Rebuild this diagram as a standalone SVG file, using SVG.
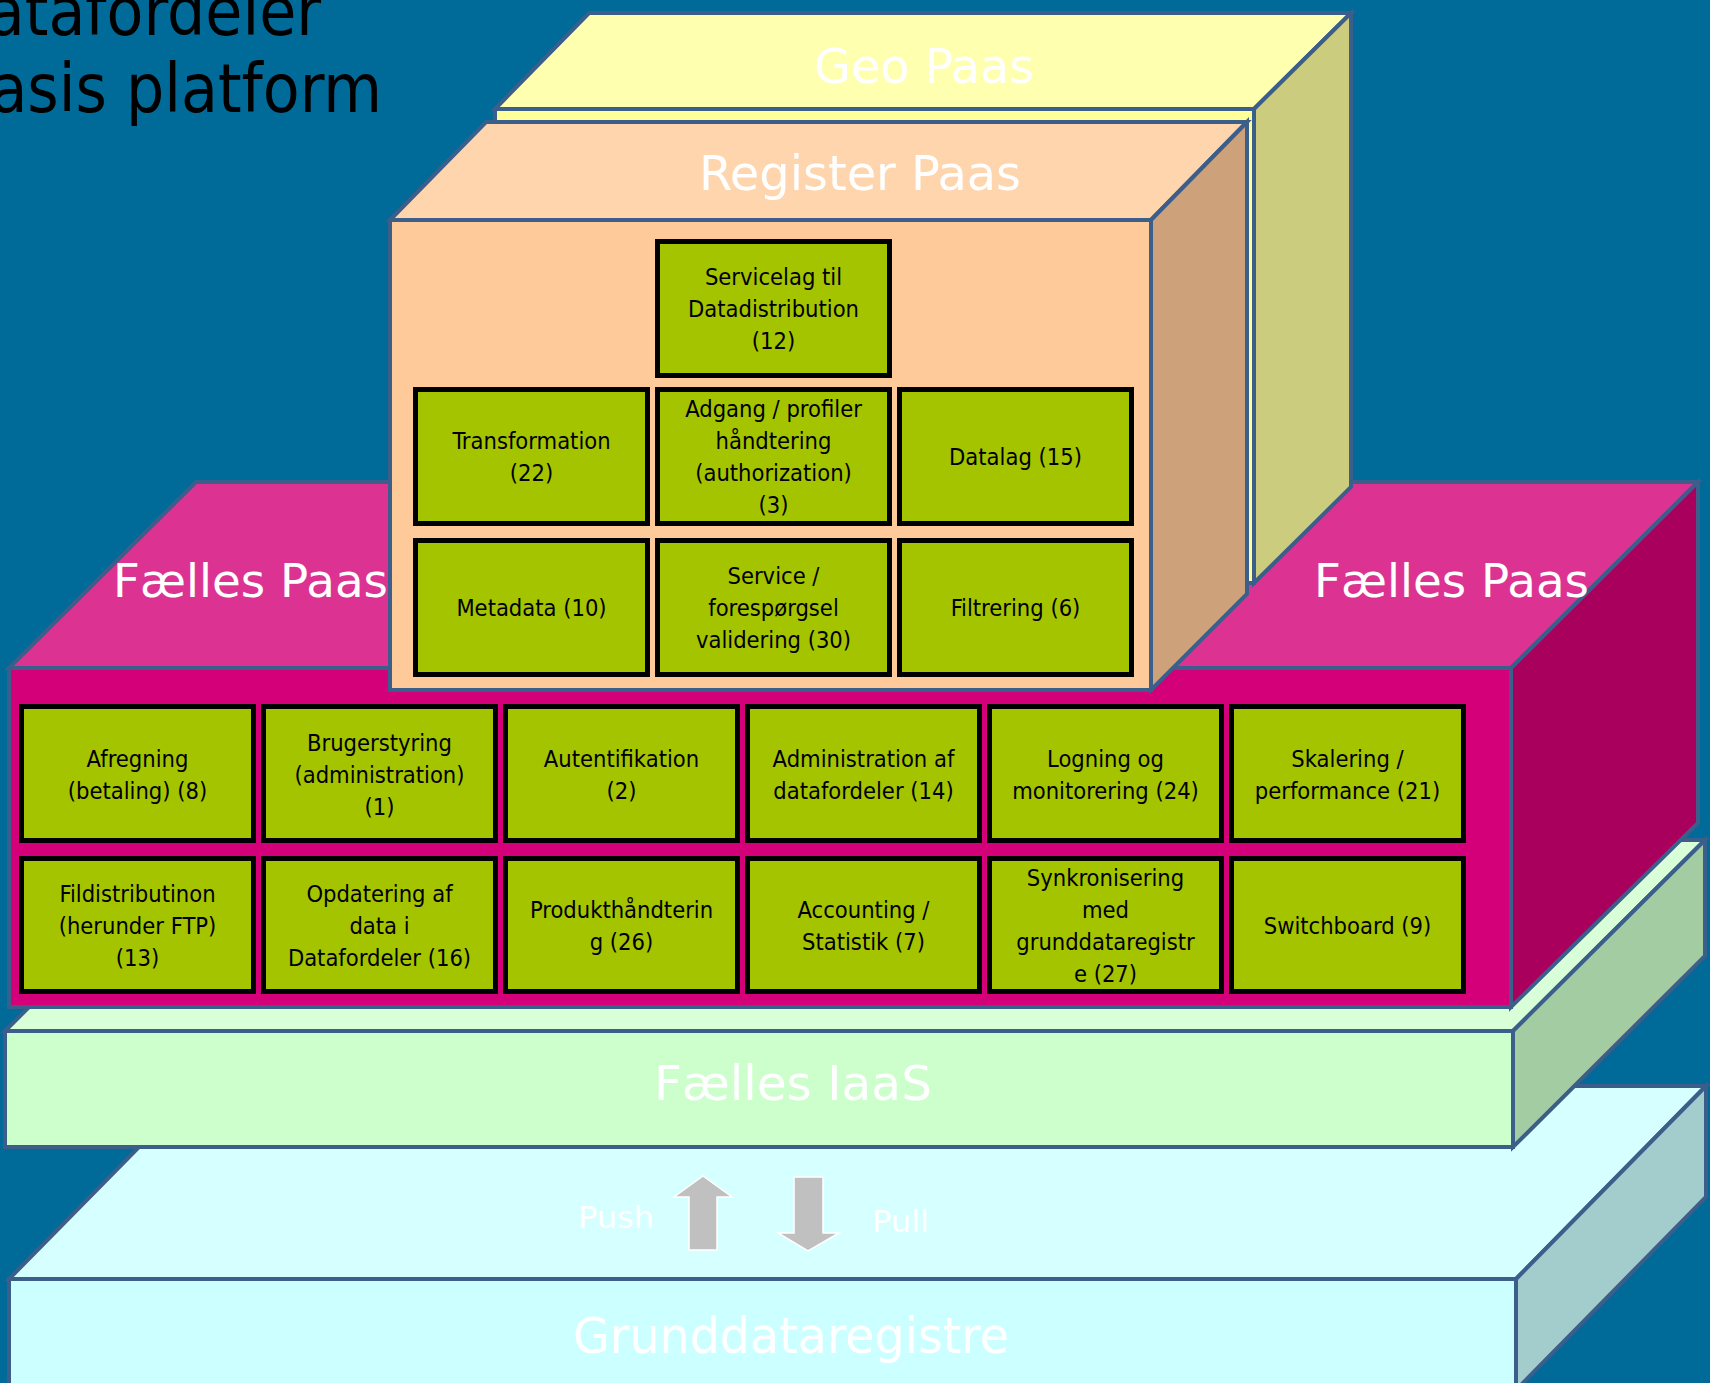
<svg xmlns="http://www.w3.org/2000/svg" width="1710" height="1383" viewBox="0 0 1710 1383">
<style>
.lay{stroke:#3B5E8B;stroke-width:4;stroke-linejoin:miter}
.big{font-family:'DejaVu Sans Condensed','DejaVu Sans',sans-serif;font-stretch:condensed;fill:#FFFFFF}
.fp{font-family:'DejaVu Sans',Verdana,sans-serif;font-size:46.5px;fill:#FFFFFF}
.box rect{fill:#A5C400;stroke:#000000;stroke-width:5}
.box text{font-family:'DejaVu Sans Condensed','DejaVu Sans',sans-serif;font-stretch:condensed;font-size:23.5px;fill:#000000;text-anchor:middle}
.arr{fill:#C0C0C0;stroke:#FFFFFF;stroke-width:1.5}
</style>
<rect x="0" y="0" width="1710" height="1383" fill="#006A99"/>
<g id="title" font-family="'DejaVu Sans Condensed','DejaVu Sans',sans-serif" font-stretch="condensed" font-size="67" fill="#000000" text-anchor="end">
<text x="321" y="35">Datafordeler</text>
<text x="382" y="112">Basis platform</text>
</g>
<g id="grunddataregistre">
<path class="lay" d="M9,1279 L199,1086 H1706 L1516,1279 Z" fill="#D6FFFF"/>
<path class="lay" d="M9,1279 H1516 V1400 H9 Z" fill="#CCFFFF"/>
<path class="lay" d="M1516,1279 L1706,1086 V1197 L1516,1390 Z" fill="#A3CCCC"/>
<text class="big" x="573" y="1353" font-size="49" textLength="436" lengthAdjust="spacingAndGlyphs">Grunddataregistre</text>
<text class="big" x="578" y="1228" font-size="30" textLength="76" lengthAdjust="spacingAndGlyphs">Push</text>
<text class="big" x="872" y="1232" font-size="30" textLength="57" lengthAdjust="spacingAndGlyphs">Pull</text>
</g>
<g id="faelles-iaas">
<path class="lay" d="M5,1031 L197,840 H1705 L1513,1031 Z" fill="#D9FFD9"/>
<path class="lay" d="M5,1031 H1513 V1147 H5 Z" fill="#CCFFCC"/>
<path class="lay" d="M1513,1031 L1705,840 V956 L1513,1147 Z" fill="#A3CCA3"/>
<text class="big" x="654" y="1100" font-size="48" textLength="278" lengthAdjust="spacingAndGlyphs">Fælles IaaS</text>
</g>
<g id="connectors">
<polygon class="arr" points="703,1176 732,1197 717,1197 717,1250 689,1250 689,1197 674,1197"/>
<polygon class="arr" points="794,1177 823,1177 823,1233 839,1233 808,1251 778,1233 794,1233"/>
</g>
<g id="faelles-paas">
<path class="lay" d="M9,668 L196,482 H1698 L1511,668 Z" fill="#DC3393"/>
<path class="lay" d="M9,668 H1511 V1007 H9 Z" fill="#D3007A"/>
<path class="lay" d="M1511,668 L1698,482 V823 L1511,1007 Z" fill="#A9005E"/>
<text class="fp" x="113" y="597" textLength="275" lengthAdjust="spacingAndGlyphs">Fælles Paas</text>
<text class="fp" x="1314" y="597" textLength="275" lengthAdjust="spacingAndGlyphs">Fælles Paas</text>
</g>
<g id="fp-afregning" class="box"><rect x="21.5" y="706.5" width="232" height="134"/><text x="137.5" y="766.5">Afregning</text><text x="137.5" y="798.5">(betaling) (8)</text></g>
<g id="fp-brugerstyring" class="box"><rect x="263.5" y="706.5" width="232" height="134"/><text x="379.5" y="750.5">Brugerstyring</text><text x="379.5" y="782.5">(administration)</text><text x="379.5" y="814.5">(1)</text></g>
<g id="fp-autentifikation" class="box"><rect x="505.5" y="706.5" width="232" height="134"/><text x="621.5" y="766.5">Autentifikation</text><text x="621.5" y="798.5">(2)</text></g>
<g id="fp-administration" class="box"><rect x="747.5" y="706.5" width="232" height="134"/><text x="863.5" y="766.5">Administration af</text><text x="863.5" y="798.5">datafordeler (14)</text></g>
<g id="fp-logning" class="box"><rect x="989.5" y="706.5" width="232" height="134"/><text x="1105.5" y="766.5">Logning og</text><text x="1105.5" y="798.5">monitorering (24)</text></g>
<g id="fp-skalering" class="box"><rect x="1231.5" y="706.5" width="232" height="134"/><text x="1347.5" y="766.5">Skalering /</text><text x="1347.5" y="798.5">performance (21)</text></g>
<g id="fp-fildistribution" class="box"><rect x="21.5" y="858.5" width="232" height="133"/><text x="137.5" y="902">Fildistributinon</text><text x="137.5" y="934">(herunder FTP)</text><text x="137.5" y="966">(13)</text></g>
<g id="fp-opdatering" class="box"><rect x="263.5" y="858.5" width="232" height="133"/><text x="379.5" y="902">Opdatering af</text><text x="379.5" y="934">data i</text><text x="379.5" y="966">Datafordeler (16)</text></g>
<g id="fp-produkt" class="box"><rect x="505.5" y="858.5" width="232" height="133"/><text x="621.5" y="918">Produkthåndterin</text><text x="621.5" y="950">g (26)</text></g>
<g id="fp-accounting" class="box"><rect x="747.5" y="858.5" width="232" height="133"/><text x="863.5" y="918">Accounting /</text><text x="863.5" y="950">Statistik (7)</text></g>
<g id="fp-synkronisering" class="box"><rect x="989.5" y="858.5" width="232" height="133"/><text x="1105.5" y="886">Synkronisering</text><text x="1105.5" y="918">med</text><text x="1105.5" y="950">grunddataregistr</text><text x="1105.5" y="982">e (27)</text></g>
<g id="fp-switchboard" class="box"><rect x="1231.5" y="858.5" width="232" height="133"/><text x="1347.5" y="934">Switchboard (9)</text></g>
<g id="geo-paas">
<path class="lay" d="M495,109 L589,13 H1351 L1254,109 Z" fill="#FFFFB0"/>
<path class="lay" d="M495,109 H1254 V583 H495 Z" fill="#FFFF99"/>
<path class="lay" d="M1254,109 L1351,13 V487 L1254,583 Z" fill="#CCCC7E"/>
<text class="big" x="814" y="83" font-size="48" textLength="220" lengthAdjust="spacingAndGlyphs">Geo Paas</text>
</g>
<g id="register-paas">
<path class="lay" d="M390,220 L486,122 H1247 L1151,220 Z" fill="#FFD5AD"/>
<path class="lay" d="M390,220 H1151 V690 H390 Z" fill="#FFCA99"/>
<path class="lay" d="M1151,220 L1247,122 V594 L1151,690 Z" fill="#CDA27B"/>
<text class="big" x="699" y="190" font-size="48" textLength="322" lengthAdjust="spacingAndGlyphs">Register Paas</text>
</g>
<g id="rp-servicelag" class="box"><rect x="657.5" y="241.5" width="232" height="134"/><text x="773.5" y="285">Servicelag til</text><text x="773.5" y="317">Datadistribution</text><text x="773.5" y="349">(12)</text></g>
<g id="rp-transformation" class="box"><rect x="415.5" y="389.5" width="232" height="134"/><text x="531.5" y="449">Transformation</text><text x="531.5" y="481">(22)</text></g>
<g id="rp-adgang" class="box"><rect x="657.5" y="389.5" width="232" height="134"/><text x="773.5" y="417">Adgang / profiler</text><text x="773.5" y="449">håndtering</text><text x="773.5" y="481">(authorization)</text><text x="773.5" y="513">(3)</text></g>
<g id="rp-datalag" class="box"><rect x="899.5" y="389.5" width="232" height="134"/><text x="1015.5" y="465">Datalag (15)</text></g>
<g id="rp-metadata" class="box"><rect x="415.5" y="540.5" width="232" height="134"/><text x="531.5" y="616">Metadata (10)</text></g>
<g id="rp-service" class="box"><rect x="657.5" y="540.5" width="232" height="134"/><text x="773.5" y="584">Service /</text><text x="773.5" y="616">forespørgsel</text><text x="773.5" y="648">validering (30)</text></g>
<g id="rp-filtrering" class="box"><rect x="899.5" y="540.5" width="232" height="134"/><text x="1015.5" y="616">Filtrering (6)</text></g>
</svg>
